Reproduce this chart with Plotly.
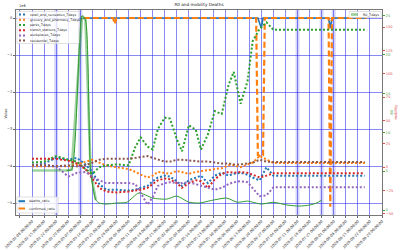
import plotly.graph_objects as go

# ---------------- data ----------------
mob_dates = ["2020-02-08", "2020-02-15", "2020-02-22", "2020-02-29", "2020-03-05", "2020-03-10",
             "2020-03-14", "2020-03-18", "2020-03-22", "2020-03-28", "2020-04-04", "2020-04-08",
             "2020-04-11", "2020-04-15", "2020-04-18", "2020-04-21", "2020-04-25", "2020-04-28",
             "2020-05-02", "2020-05-05", "2020-05-09", "2020-05-13", "2020-05-16", "2020-05-20",
             "2020-05-24", "2020-05-28", "2020-06-01", "2020-06-04", "2020-06-08", "2020-06-12",
             "2020-06-15", "2020-06-19", "2020-06-23", "2020-06-27", "2020-08-19"]
retail_and_recreation_7days = [2, 4, 10, 8, 10, 3, -5, -18, -24, -24, -25, -24, -22, -20, -15, -11, -9, -10,
                               -15, -20, -14, -11, -9, -17, -9, -6, -9, -7, -6, -8, -11, -14, 0, -9, -9]
grocery_and_pharmacy_7days = [1, 1, 1, 1, 3, 6, 8, 5, 2, 0, -2, -5, -8, -11, -9, -5, -6, -7,
                              -4, -5, -7, -5, -4, -3, -2, -1, 2, 2, 0, 3, 5, 12, 8, 4.5, 4.5]
parks_7days = [5, 6, 12, 8, 6, -2, -7, 0, 2, 3, 2, 22, 32, 22, 19, 41, 53, 52,
               30, 17, 45, 40, 19, 35, 60, 57, 88, 102, 68, 92, 135, 148, 155, 147, 147]
transit_stations_7days = [9, 9, 9, 7, 4, -2, -12, -22, -26, -27, -26, -25, -24, -22, -18, -14, -12, -13,
                          -17, -22, -17, -14, -15, -22, -13, -7, -5, -6, -5, -6, -8, -11, -9, -6.5, -6.5]
workplaces_7days = [2, 3, 1, -10, -6, -5, -10, -14, -17, -17, -17, -18, -27, -40, -32, -20, -17, -16,
                    -17, -17, -16, -18, -20, -22, -24, -22, -18, -16, -15, -16, -22, -31, -30, -21.5, -21.5]
residential_7days = [2, 2, 1, 2, 1, 2, 5, 8, 9, 9, 9, 10, 11, 12, 10, 8, 6, 6,
                     8, 8, 7, 6, 6, 6, 5, 4, 4, 3, 3, 4, 5, 8, 6, 5.5, 5.5]

r0_dates = ["2020-02-08", "2020-02-15", "2020-02-22", "2020-02-28", "2020-03-02", "2020-03-08",
            "2020-03-10", "2020-03-13", "2020-03-16", "2020-03-18", "2020-03-22", "2020-03-28",
            "2020-04-03", "2020-04-10", "2020-04-18", "2020-04-26", "2020-05-02", "2020-05-09",
            "2020-05-15", "2020-05-23", "2020-05-31", "2020-06-06", "2020-06-12", "2020-06-20",
            "2020-06-27", "2020-07-05", "2020-07-12", "2020-07-18", "2020-07-22", "2020-07-25"]
R0_7days = [5.1, 5.1, 5.1, 5.1, 5.2, 25, 24.5, 5, 1.3, 0.9, 0.77, 0.9,
            1.0, 2.2, 1.54, 1.4, 1.8, 1.0, 0.9, 1.28, 1.54, 1.0, 1.15, 0.77,
            1.0, 0.64, 0.51, 0.64, 0.9, 1.28]

ratio_dates = ["2020-03-09", "2020-03-26", "2020-03-27", "2020-03-28", "2020-06-17", "2020-06-18",
               "2020-06-20", "2020-06-21", "2020-06-22", "2020-07-29", "2020-07-30", "2020-07-31",
               "2020-08-20"]
deaths_ratio = [0, 0, 0, 0, 0, 0, -0.27e6, 0, 0, 0, -0.27e6, 0, 0]
confirmed_ratio = [0, 0, -0.16e6, 0, 0, -3.7e6, -3.75e6, -3.7e6, 0, 0, -5.1e6, 0, 0]

left_ticks = [0, -1e6, -2e6, -3e6, -4e6, -5e6]
left_ticktext = ["0", "\u22121", "\u22122", "\u22123", "\u22124", "\u22125"]
r0_ticks = [0, 5, 10, 15, 20, 25]
mob_ticks = [-50, -25, 0, 25, 50, 75, 100, 125, 150]
band_dates = ["2020-02-22", "2020-03-07", "2020-07-11", "2020-07-25", "2020-08-01"]

# ---------------- layout constants ----------------
W, H = 400, 250
L, R, T, B = 16, 382, 10, 215
FONT = "DejaVu Sans"
FS = 3.6


def px(x):
    return (x - L) / (R - L)


def py(y):
    return (B - y) / (B - T)


C0, C1, C2, C3, C4, C5 = "#1f77b4", "#ff7f0e", "#2ca02c", "#d62728", "#9467bd", "#8c564b"
GRID = "rgba(40,40,235,0.55)"
DOT = "2px,2px"

fig = go.Figure()

# ratios (left axis)
fig.add_trace(go.Scatter(x=ratio_dates, y=deaths_ratio, mode="lines", name="deaths_ratio",
                         line=dict(color=C0, width=1.6), yaxis="y", showlegend=False))
fig.add_trace(go.Scatter(x=ratio_dates, y=confirmed_ratio, mode="lines", name="confirmed_ratio",
                         line=dict(color=C1, width=2.2, dash="6px,3px"), yaxis="y", showlegend=False))

# R0 (green right axis)
fig.add_trace(go.Scatter(x=r0_dates[:9], y=R0_7days[:9], mode="lines", name="R0_7days",
                         line=dict(color="rgba(44,160,44,0.45)", width=2.6), yaxis="y2", showlegend=False))
fig.add_trace(go.Scatter(x=r0_dates[3:], y=R0_7days[3:], mode="lines", name="R0",
                         line=dict(color="#2f9a2f", width=1.0, shape="spline", smoothing=0.6),
                         yaxis="y2", showlegend=False))

# mobility (red right axis)
mob_series = [
    ("retail_and_recreation_7days", retail_and_recreation_7days, C0),
    ("grocery_and_pharmacy_7days", grocery_and_pharmacy_7days, C1),
    ("parks_7days", parks_7days, C2),
    ("transit_stations_7days", transit_stations_7days, C3),
    ("workplaces_7days", workplaces_7days, C4),
    ("residential_7days", residential_7days, C5),
]
for name, vals, col in mob_series:
    fig.add_trace(go.Scatter(x=mob_dates, y=vals, mode="lines", name=name,
                             line=dict(color=col, width=2, dash=DOT), yaxis="y3", showlegend=False))

shapes = []
annotations = []

# light vertical bands
for d in band_dates:
    shapes.append(dict(type="line", xref="x", yref="paper", x0=d, x1=d, y0=0, y1=1,
                       line=dict(color="rgba(120,120,240,0.3)", width=4), layer="below"))


# manual compact legends (matplotlib style)
def legend_box(x0, y0, x1, y1):
    shapes.append(dict(type="rect", xref="paper", yref="paper", x0=px(x0), x1=px(x1),
                       y0=py(y1), y1=py(y0), fillcolor="rgba(255,255,255,0.8)",
                       line=dict(color="#d4d4d4", width=0.7), layer="above"))


def legend_item(y, sx0, sx1, tx, text, line):
    shapes.append(dict(type="line", xref="paper", yref="paper", x0=px(sx0), x1=px(sx1),
                       y0=py(y), y1=py(y), line=line, layer="above"))
    annotations.append(dict(xref="paper", yref="paper", x=px(tx), y=py(y), text=text,
                            showarrow=False, xanchor="left", yanchor="middle",
                            font=dict(family=FONT, size=FS - 0.3, color="#222")))


legend_box(17, 11.5, 79, 43.5)
for i, (name, vals, col) in enumerate(mob_series):
    legend_item(14.6 + 5.2 * i, 19, 25.5, 28, name, dict(color=col, width=2, dash=DOT))

legend_box(17, 197, 58, 213)
legend_item(201.2, 18.5, 25, 27, "deaths_ratio", dict(color=C0, width=2))
legend_item(208.5, 18.5, 25, 27, "confirmed_ratio", dict(color=C1, width=2))

legend_box(349, 11.5, 381, 17.5)
legend_item(14.5, 351, 358, 361, "R0_7days", dict(color="rgba(44,160,44,0.5)", width=2.5))

# axis texts
annotations.append(dict(xref="paper", yref="paper", x=px(16.5), y=py(6), text="1e6", showarrow=False,
                        xanchor="left", yanchor="middle", font=dict(family=FONT, size=FS, color="#333")))
annotations.append(dict(xref="paper", yref="paper", x=px(5.5), y=py(113), text="Value", showarrow=False,
                        textangle=-90, xanchor="center", yanchor="middle",
                        font=dict(family=FONT, size=FS, color="#333")))
annotations.append(dict(xref="paper", yref="paper", x=px(391.5), y=py(112), text="R0", showarrow=False,
                        textangle=-90, xanchor="center", yanchor="middle",
                        font=dict(family=FONT, size=FS, color="#40a040")))
annotations.append(dict(xref="paper", yref="paper", x=px(395.5), y=py(112), text="mobility", showarrow=False,
                        textangle=-90, xanchor="center", yanchor="middle",
                        font=dict(family=FONT, size=FS, color="#e05050")))

fig.update_layout(
    width=W, height=H, autosize=False,
    margin=dict(l=L, r=W - R, t=T, b=H - B, pad=0),
    paper_bgcolor="white", plot_bgcolor="white",
    font=dict(family=FONT, size=FS, color="#333"),
    title=dict(text="R0 and mobility Deaths", x=(L + R) / 2 / W, xanchor="center",
               y=1 - 5 / H, yanchor="middle", font=dict(family=FONT, size=4.2, color="#222")),
    showlegend=False,
    shapes=shapes, annotations=annotations,
    xaxis=dict(type="date", range=["2020-01-29 17:00", "2020-08-29"],
               tick0="2020-02-08", dtick=7 * 86400000, tickformat="%Y-%m-%d %H:%M:%S",
               tickangle=-45, tickfont=dict(family=FONT, size=FS, color="#333"),
               showgrid=True, gridcolor=GRID, gridwidth=0.8,
               ticks="outside", ticklen=2, tickcolor="#666", tickwidth=0.6,
               showline=True, linecolor="#777", linewidth=0.8, mirror=True,
               zeroline=False, automargin=False),
    yaxis=dict(range=[-5.32e6, 0.216e6], tickvals=left_ticks, ticktext=left_ticktext,
               tickfont=dict(family=FONT, size=FS, color="#333"),
               showgrid=True, gridcolor=GRID, gridwidth=0.8,
               ticks="outside", ticklen=2, tickcolor="#666", tickwidth=0.6,
               showline=True, linecolor="#777", linewidth=0.8,
               zeroline=False, automargin=False),
    yaxis2=dict(range=[-0.64, 25.77], tickvals=r0_ticks, overlaying="y", side="right", anchor="x",
                tickfont=dict(family=FONT, size=FS, color="#40a040"),
                showgrid=False, zeroline=False, ticks="outside", ticklen=2, tickcolor="#40a040",
                tickwidth=0.6, showline=True, linecolor="#777", linewidth=0.8, automargin=False),
    yaxis3=dict(range=[-51.1, 168.2], tickvals=mob_ticks, overlaying="y", side="right",
                anchor="free", position=1.0,
                tickfont=dict(family=FONT, size=FS, color="#e05050"),
                showgrid=False, zeroline=False, ticks="outside", ticklen=2, tickcolor="#e05050",
                tickwidth=0.6, showline=False, automargin=False),
)

fig.write_html("out.html")
